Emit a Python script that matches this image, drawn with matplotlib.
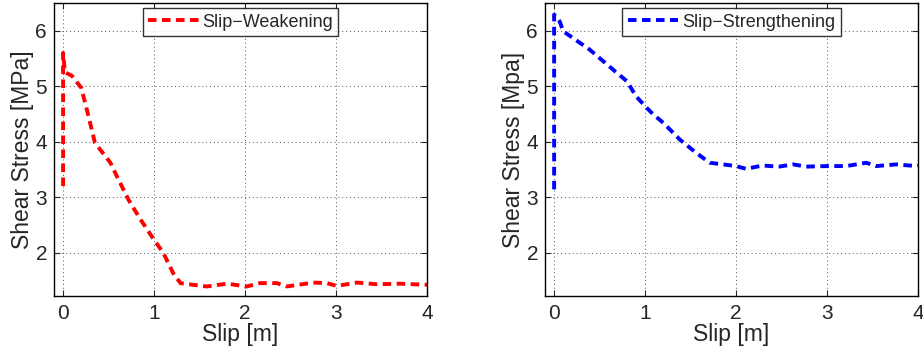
import matplotlib
matplotlib.use("Agg")
import matplotlib.pyplot as plt

plt.rcParams['font.family'] = ['Liberation Sans', 'DejaVu Sans']

# Slip-weakening friction curve
weak_slip = [0.0, 0.0, 0.0, 0.02, 0.095, 0.2, 0.27, 0.35, 0.52, 0.59, 0.72, 0.85,
             1.0, 1.1, 1.21, 1.29, 1.43, 1.58, 1.8, 2.02, 2.16, 2.35, 2.46, 2.75,
             2.9, 3.01, 3.23, 3.45, 3.7, 4.0]
weak_stress = [3.2, 4.6, 5.6, 5.25, 5.19, 4.97, 4.52, 3.98, 3.62, 3.38, 2.95, 2.6,
               2.23, 2.0, 1.63, 1.45, 1.42, 1.39, 1.44, 1.39, 1.45, 1.45, 1.39, 1.46,
               1.45, 1.4, 1.46, 1.43, 1.44, 1.42]

# Slip-strengthening friction curve
strong_slip = [0.0, 0.0, 0.0, 0.06, 0.1, 0.39, 0.54, 0.69, 0.8, 0.9, 1.0, 1.09,
               1.2, 1.38, 1.56, 1.71, 1.86, 2.0, 2.11, 2.29, 2.47, 2.63, 2.77,
               2.99, 3.21, 3.32, 3.43, 3.54, 3.76, 3.98, 4.0]
strong_stress = [3.14, 4.8, 6.29, 6.17, 5.99, 5.66, 5.45, 5.24, 5.09, 4.82, 4.64, 4.49,
                 4.34, 4.04, 3.8, 3.62, 3.59, 3.56, 3.51, 3.57, 3.55, 3.59, 3.55,
                 3.56, 3.56, 3.59, 3.62, 3.56, 3.59, 3.56, 3.57]

x_ticks = [0, 1, 2, 3, 4]
y_ticks = [2, 3, 4, 5, 6]

fig = plt.figure(figsize=(9.23, 3.51), dpi=100)
ax1 = fig.add_axes([0.0585, 0.157, 0.4041, 0.8345])
ax2 = fig.add_axes([0.5905, 0.157, 0.4041, 0.8345])

panels = [
    (ax1, weak_slip, weak_stress, '#ff0000', 'Slip\u2212Weakening', 'Shear Stress [MPa]'),
    (ax2, strong_slip, strong_stress, '#0000ff', 'Slip\u2212Strengthening', 'Shear Stress [Mpa]'),
]

for ax, xs, ys, color, name, ylabel in panels:
    ax.plot(xs, ys, color=color, lw=2.8, dashes=(2.2, 1.4), label=name)
    ax.set_xlim(-0.1, 4.0)
    ax.set_ylim(1.22, 6.5)
    ax.set_xticks(x_ticks)
    ax.set_yticks(y_ticks)
    ax.grid(True, linestyle=(0, (1, 3)), color='#555555', lw=0.7)
    ax.tick_params(direction='in', top=True, right=True, labelsize=15,
                   length=4, width=0.8, colors='#262626', labelcolor='#262626')
    ax.tick_params(axis='y', pad=5)
    ax.tick_params(axis='x', pad=6)
    for sp in ax.spines.values():
        sp.set_linewidth(1.0)
        sp.set_color('#000000')
    ax.set_xlabel('Slip [m]', fontsize=16.5, color='#262626', labelpad=0)
    ax.set_ylabel(ylabel, fontsize=16.5, color='#262626', labelpad=1)
    leg = ax.legend(loc='upper center', fontsize=13, frameon=True, fancybox=False,
                    handlelength=2.8, handletextpad=0.2, borderpad=0.3,
                    borderaxespad=0.3)
    leg.get_frame().set_edgecolor('black')
    leg.get_frame().set_linewidth(1.0)
    for t in leg.get_texts():
        t.set_color('#262626')

fig.savefig('out.png', dpi=100)
